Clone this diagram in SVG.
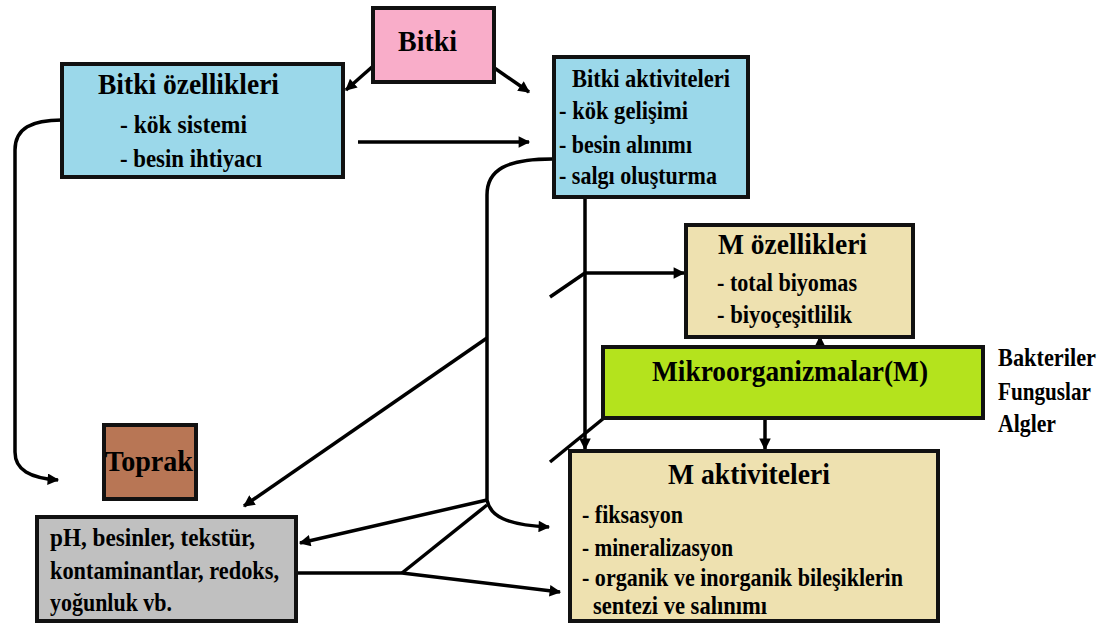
<svg xmlns="http://www.w3.org/2000/svg" width="1107" height="623" viewBox="0 0 1107 623">
<defs>
<marker id="ah" viewBox="0 0 10 10" refX="9" refY="5" markerWidth="3.5" markerHeight="3.3" orient="auto" markerUnits="strokeWidth">
<path d="M0,0 L10,5 L0,10 Z" fill="#000"/>
</marker>
<style>
.box{stroke:#111;stroke-width:4}
.blue{fill:#9BD8EA}
.tan{fill:#EEE1B0}
.t{font-family:"Liberation Serif","Times New Roman",serif;font-weight:bold;fill:#000}
.h{font-size:30px}
.s{font-size:24.5px}
.c{fill:none;stroke:#000;stroke-width:3.5}
.a{marker-end:url(#ah)}
</style>
</defs>
<rect width="1107" height="623" fill="#fff"/>

<g id="connectors">
<path class="c a" d="M372,67 L346,90"/>
<path class="c a" d="M493,67 L529,92"/>
<path class="c a" d="M358,142 L529,142"/>
<path class="c a" d="M62,120 C32,120 15,128 15,150 L15,452 C15,470 30,478 58,480"/>
<path class="c a" d="M552,159 C506,159 487,170 487,195 L487,500 C490,516 506,525 549,527"/>
<path class="c a" d="M585,197 L585,449"/>
<path class="c" d="M550,297 L585,273"/>
<path class="c a" d="M585,273 L684,273"/>
<path class="c" d="M550,462 L604,418"/>
<path class="c a" d="M487,338 L244,506"/>
<path class="c a" d="M487,500 L300,543"/>
<path class="c" d="M487,505 L402,573"/>
<path class="c" d="M296,573 L402,573"/>
<path class="c a" d="M402,573 L560,592"/>
<path class="c a" d="M765,420 L765,449"/>
<path class="c a" d="M820,347 L820,337"/>
</g>

<g id="bitki">
<rect class="box" x="373" y="8" width="121" height="74" fill="#F9ADC9"/>
<text class="t" x="398" y="51" font-size="30" textLength="59" lengthAdjust="spacingAndGlyphs">Bitki</text>
</g>

<g id="bitki-ozellikleri">
<rect class="box blue" x="62" y="64" width="281" height="113"/>
<text class="t h" x="98" y="94" textLength="181" lengthAdjust="spacingAndGlyphs">Bitki özellikleri</text>
<text class="t s" x="120" y="133" textLength="127" lengthAdjust="spacingAndGlyphs">- kök sistemi</text>
<text class="t s" x="120" y="167" textLength="142" lengthAdjust="spacingAndGlyphs">- besin ihtiyacı</text>
</g>

<g id="bitki-aktiviteleri">
<rect class="box blue" x="554" y="57" width="194" height="140"/>
<text class="t" x="572" y="87" font-size="25" textLength="158" lengthAdjust="spacingAndGlyphs">Bitki aktiviteleri</text>
<text class="t s" x="559" y="119" textLength="129" lengthAdjust="spacingAndGlyphs">- kök gelişimi</text>
<text class="t s" x="559" y="153" textLength="133" lengthAdjust="spacingAndGlyphs">- besin alınımı</text>
<text class="t s" x="559" y="184" textLength="158" lengthAdjust="spacingAndGlyphs">- salgı oluşturma</text>
</g>

<g id="m-ozellikleri">
<rect class="box tan" x="686" y="225" width="227" height="112"/>
<text class="t h" x="718" y="254" textLength="149" lengthAdjust="spacingAndGlyphs">M özellikleri</text>
<text class="t s" x="717" y="291" textLength="140" lengthAdjust="spacingAndGlyphs">- total biyomas</text>
<text class="t s" x="717" y="323" textLength="135" lengthAdjust="spacingAndGlyphs">- biyoçeşitlilik</text>
</g>

<g id="mikroorganizmalar">
<rect class="box" x="603" y="347" width="380" height="71" fill="#B4E31D"/>
<text class="t h" x="652" y="381" textLength="276" lengthAdjust="spacingAndGlyphs">Mikroorganizmalar(M)</text>
</g>

<g id="mikro-turleri">
<text class="t s" x="998" y="366" textLength="98" lengthAdjust="spacingAndGlyphs">Bakteriler</text>
<text class="t s" x="998" y="400" textLength="93" lengthAdjust="spacingAndGlyphs">Funguslar</text>
<text class="t s" x="998" y="432" textLength="58" lengthAdjust="spacingAndGlyphs">Algler</text>
</g>

<g id="m-aktiviteleri">
<rect class="box tan" x="570" y="451" width="368" height="170"/>
<text class="t" x="668" y="484" font-size="30" textLength="162" lengthAdjust="spacingAndGlyphs">M aktiviteleri</text>
<text class="t s" x="582" y="523" textLength="101" lengthAdjust="spacingAndGlyphs">- fiksasyon</text>
<text class="t s" x="582" y="556" textLength="151" lengthAdjust="spacingAndGlyphs">- mineralizasyon</text>
<text class="t s" x="582" y="586" textLength="321" lengthAdjust="spacingAndGlyphs">- organik ve inorganik bileşiklerin</text>
<text class="t s" x="593" y="614" textLength="174" lengthAdjust="spacingAndGlyphs">sentezi ve salınımı</text>
</g>

<g id="toprak">
<rect class="box" x="104" y="425" width="92" height="74" fill="#B87655"/>
<text class="t h" x="105" y="471" textLength="88" lengthAdjust="spacingAndGlyphs">Toprak</text>
</g>

<g id="toprak-ozellikleri">
<rect class="box" x="37" y="517" width="259" height="104" fill="#C0C0C0"/>
<text class="t s" x="50" y="546" textLength="205" lengthAdjust="spacingAndGlyphs">pH, besinler, tekstür,</text>
<text class="t s" x="50" y="579" textLength="229" lengthAdjust="spacingAndGlyphs">kontaminantlar, redoks,</text>
<text class="t s" x="50" y="611" textLength="122" lengthAdjust="spacingAndGlyphs">yoğunluk vb.</text>
</g>
</svg>
